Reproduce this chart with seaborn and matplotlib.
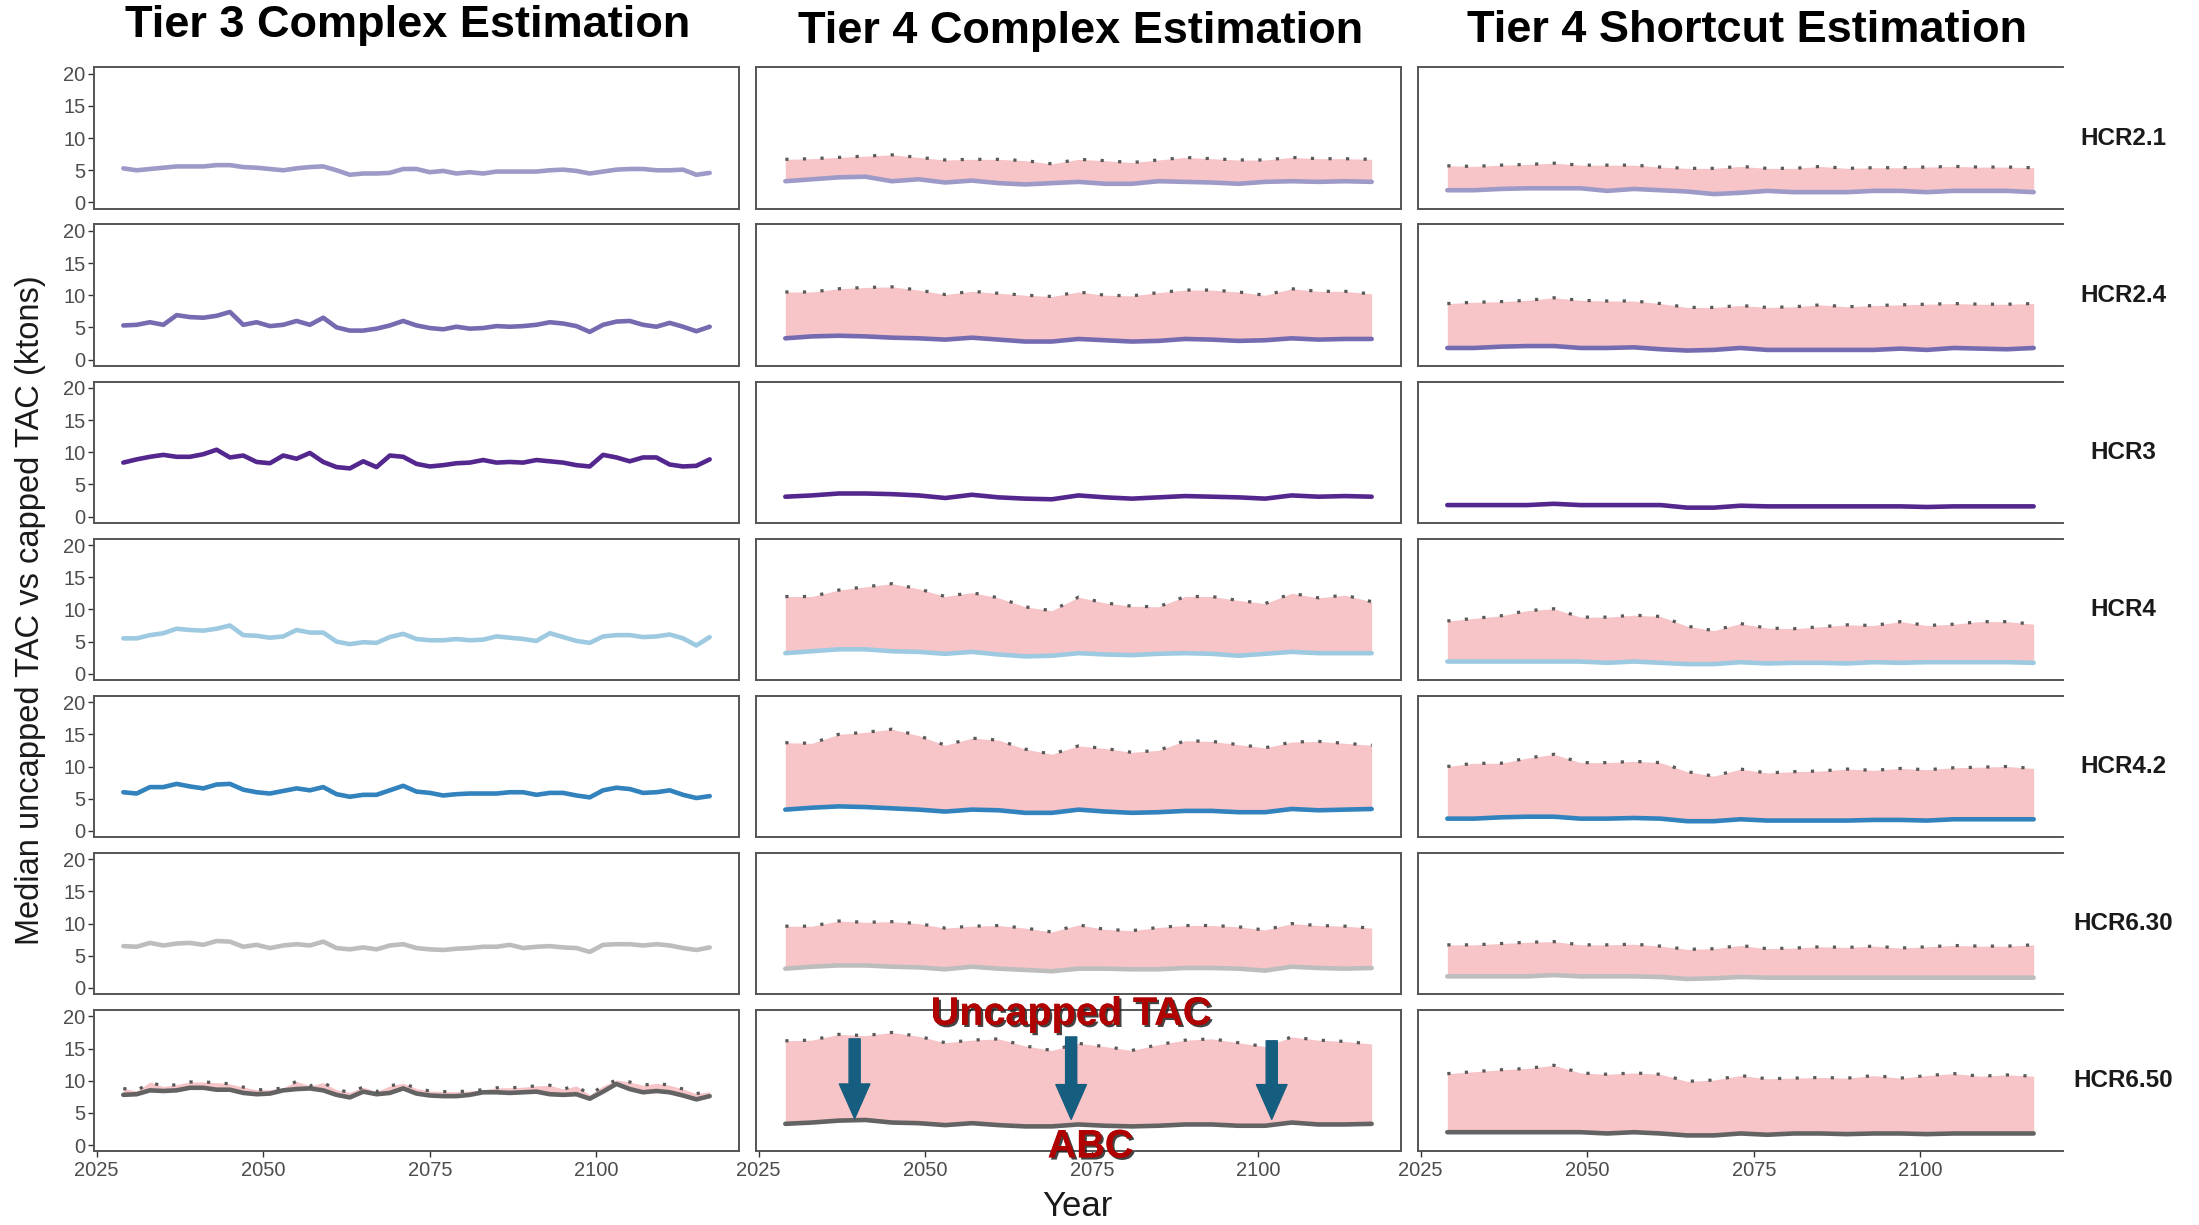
import matplotlib
matplotlib.use("Agg")
import matplotlib.pyplot as plt
import matplotlib.patheffects as pe
from matplotlib import font_manager as fm
import seaborn as sns
import pandas as pd

# ---------------- data ----------------
YEARS_T3 = list(range(2029, 2118, 2))   # Tier 3 complex (45 yrs)
YEARS_T4 = list(range(2029, 2118, 4))   # Tier 4 panels (23 yrs)

HCRS = ["HCR2.1", "HCR2.4", "HCR3", "HCR4", "HCR4.2", "HCR6.30", "HCR6.50"]
HCR_COLORS = ["#9E9AC8", "#756BB1", "#54278F", "#9ECAE1", "#3182BD", "#BDBDBD", "#636363"]
COL_TITLES = ["Tier 3 Complex Estimation", "Tier 4 Complex Estimation", "Tier 4 Shortcut Estimation"]
X_TICKS = [2025, 2050, 2075, 2100]
Y_TICKS = [0, 5, 10, 15, 20]

# Tier 3 complex: capped TAC (ABC)
t3_hcr21 = [5.3,5.0,5.2,5.4,5.6,5.6,5.6,5.8,5.8,5.5,5.4,5.2,5.0,5.3,5.5,5.6,5.0,4.3,4.5,4.5,4.6,5.2,5.2,4.7,4.9,
            4.5,4.7,4.5,4.8,4.8,4.8,4.8,5.0,5.1,4.9,4.5,4.8,5.1,5.2,5.2,5.0,5.0,5.1,4.3,4.6]
t3_hcr24 = [5.3,5.4,5.8,5.4,6.9,6.6,6.5,6.8,7.4,5.4,5.8,5.2,5.4,6.0,5.4,6.5,5.0,4.5,4.5,4.8,5.3,6.0,5.3,4.9,4.7,
            5.1,4.8,4.9,5.2,5.1,5.2,5.4,5.8,5.6,5.2,4.3,5.4,5.9,6.0,5.4,5.1,5.7,5.1,4.4,5.1]
t3_hcr3 = [8.4,8.9,9.3,9.6,9.3,9.3,9.7,10.4,9.2,9.5,8.5,8.3,9.5,9.0,9.9,8.5,7.7,7.5,8.6,7.7,9.5,9.3,8.2,7.8,8.0,
           8.3,8.4,8.8,8.4,8.5,8.4,8.8,8.6,8.4,8.0,7.8,9.6,9.2,8.6,9.2,9.2,8.1,7.8,7.9,8.9]
t3_hcr4 = [5.5,5.5,6.0,6.3,7.0,6.8,6.7,7.0,7.5,6.0,5.9,5.6,5.8,6.8,6.4,6.4,5.0,4.6,4.9,4.8,5.7,6.2,5.4,5.2,5.2,
           5.4,5.2,5.3,5.8,5.6,5.4,5.1,6.3,5.7,5.1,4.8,5.8,6.0,6.0,5.7,5.8,6.1,5.5,4.4,5.7]
t3_hcr42 = [6.0,5.8,6.8,6.8,7.3,6.9,6.6,7.2,7.3,6.4,6.0,5.8,6.2,6.6,6.3,6.8,5.7,5.3,5.6,5.6,6.3,7.0,6.1,5.9,5.5,
            5.7,5.8,5.8,5.8,6.0,6.0,5.6,5.9,5.9,5.5,5.2,6.3,6.7,6.5,5.9,6.0,6.3,5.6,5.1,5.4]
t3_hcr630 = [6.5,6.4,7.0,6.6,6.9,7.0,6.7,7.3,7.2,6.4,6.7,6.2,6.6,6.8,6.6,7.2,6.2,6.0,6.3,6.0,6.6,6.8,6.2,6.0,5.9,
             6.1,6.2,6.4,6.4,6.7,6.2,6.4,6.5,6.3,6.2,5.6,6.7,6.8,6.8,6.6,6.8,6.6,6.2,5.9,6.3]
t3_hcr650 = [7.8,7.9,8.5,8.4,8.5,8.9,8.9,8.6,8.6,8.1,7.9,8.0,8.5,8.7,8.8,8.5,7.8,7.4,8.3,7.9,8.1,8.8,8.0,7.7,7.6,
             7.6,7.8,8.2,8.2,8.1,8.2,8.3,7.9,7.8,7.9,7.2,8.3,9.5,8.7,8.2,8.4,8.2,7.7,7.1,7.6]
# Tier 3 complex: uncapped TAC (only differs for HCR6.50)
t3_unc_hcr650 = [8.8,8.4,9.8,9.1,9.4,9.8,9.8,9.7,9.5,9.0,8.6,8.6,8.9,9.9,9.2,9.7,8.6,8.2,9.0,8.3,9.2,9.6,8.8,8.4,8.3,
                 8.3,8.4,8.6,8.9,8.9,9.0,9.2,9.3,8.7,9.2,7.8,9.2,10.1,9.8,9.3,9.6,9.3,8.7,8.0,8.3]

# Tier 4 complex: capped TAC (ABC)
t4c_hcr21 = [3.3,3.6,3.9,4.0,3.3,3.6,3.1,3.4,3.0,2.8,3.0,3.2,2.9,2.9,3.3,3.2,3.1,2.9,3.2,3.3,3.2,3.3,3.2]
t4c_hcr24 = [3.3,3.6,3.7,3.6,3.4,3.3,3.1,3.4,3.1,2.8,2.8,3.2,3.0,2.8,2.9,3.2,3.1,2.9,3.0,3.3,3.1,3.2,3.2]
t4c_hcr3 = [3.1,3.3,3.6,3.6,3.5,3.3,2.9,3.4,3.0,2.8,2.7,3.3,3.0,2.8,3.0,3.2,3.1,3.0,2.8,3.3,3.1,3.2,3.1]
t4c_hcr4 = [3.2,3.5,3.8,3.8,3.5,3.4,3.1,3.4,3.0,2.7,2.8,3.2,3.0,2.9,3.1,3.2,3.1,2.8,3.1,3.4,3.2,3.2,3.2]
t4c_hcr42 = [3.3,3.6,3.8,3.7,3.5,3.3,3.0,3.3,3.2,2.8,2.8,3.3,3.0,2.8,2.9,3.1,3.1,2.9,2.9,3.4,3.2,3.3,3.4]
t4c_hcr630 = [3.0,3.3,3.5,3.5,3.3,3.2,2.9,3.3,3.0,2.8,2.6,3.0,3.0,2.9,2.9,3.1,3.1,3.0,2.7,3.3,3.1,3.0,3.1]
t4c_hcr650 = [3.3,3.5,3.8,3.9,3.5,3.4,3.1,3.4,3.1,2.9,2.9,3.2,3.0,2.9,3.0,3.2,3.2,3.0,3.0,3.5,3.2,3.2,3.3]
# Tier 4 complex: uncapped TAC
t4c_unc_hcr21 = [6.7,6.8,7.0,7.2,7.4,7.0,6.6,6.7,6.7,6.5,6.0,6.7,6.5,6.2,6.6,7.0,6.8,6.6,6.6,7.0,6.8,6.8,6.7]
t4c_unc_hcr24 = [10.5,10.5,11.0,11.2,11.3,10.8,10.1,10.6,10.3,10.0,9.8,10.5,10.0,9.9,10.4,10.8,10.8,10.5,10.0,11.0,10.6,10.6,10.2]
t4c_unc_hcr4 = [12.0,12.0,13.0,13.5,14.0,13.2,12.0,12.6,11.8,10.4,9.8,11.9,11.0,10.5,10.4,12.0,12.0,11.4,10.9,12.5,11.8,12.2,11.2]
t4c_unc_hcr42 = [13.7,13.6,15.0,15.3,15.8,14.8,13.3,14.4,14.1,12.7,11.9,13.2,12.8,12.2,12.5,14.0,13.9,13.4,12.9,13.8,13.9,13.6,13.3]
t4c_unc_hcr630 = [9.6,9.6,10.4,10.2,10.3,10.0,9.3,9.6,9.7,9.3,8.7,9.8,9.1,8.9,9.4,9.7,9.7,9.5,9.0,10.0,9.7,9.6,9.3]
t4c_unc_hcr650 = [16.2,16.3,17.2,17.0,17.5,16.9,15.9,16.3,16.5,15.4,14.7,15.8,15.3,14.7,15.6,16.3,16.5,15.9,15.3,16.8,16.3,16.1,15.7]

# Tier 4 shortcut: capped TAC (ABC)
t4s_hcr21 = [1.9,1.9,2.1,2.2,2.2,2.2,1.8,2.1,1.9,1.7,1.3,1.5,1.8,1.6,1.6,1.6,1.8,1.8,1.6,1.8,1.8,1.8,1.6]
t4s_hcr24 = [1.8,1.8,2.0,2.1,2.1,1.8,1.8,1.9,1.6,1.4,1.5,1.8,1.5,1.5,1.5,1.5,1.5,1.7,1.5,1.8,1.7,1.6,1.8]
t4s_hcr3 = [1.8,1.8,1.8,1.8,2.0,1.8,1.8,1.8,1.8,1.4,1.4,1.7,1.6,1.6,1.6,1.6,1.6,1.6,1.5,1.6,1.6,1.6,1.6]
t4s_hcr4 = [1.9,1.9,1.9,1.9,1.9,1.9,1.7,1.9,1.7,1.5,1.5,1.8,1.6,1.7,1.7,1.6,1.8,1.7,1.8,1.8,1.8,1.8,1.7]
t4s_hcr42 = [1.9,1.9,2.1,2.2,2.2,1.9,1.9,2.0,1.9,1.5,1.5,1.8,1.6,1.6,1.6,1.6,1.7,1.7,1.6,1.8,1.8,1.8,1.8]
t4s_hcr630 = [1.8,1.8,1.8,1.8,2.0,1.8,1.8,1.8,1.7,1.4,1.5,1.7,1.6,1.6,1.6,1.6,1.6,1.6,1.6,1.6,1.6,1.6,1.6]
t4s_hcr650 = [2.0,2.0,2.0,2.0,2.0,2.0,1.8,2.0,1.8,1.5,1.5,1.8,1.6,1.8,1.8,1.7,1.8,1.8,1.7,1.8,1.8,1.8,1.8]
# Tier 4 shortcut: uncapped TAC
t4s_unc_hcr21 = [5.7,5.6,5.8,5.9,6.1,5.8,5.8,5.8,5.5,5.3,5.3,5.6,5.3,5.3,5.6,5.3,5.4,5.4,5.5,5.6,5.5,5.5,5.4]
t4s_unc_hcr24 = [8.7,8.9,9.0,9.2,9.6,9.2,9.1,9.1,8.7,8.1,8.1,8.4,8.1,8.2,8.5,8.2,8.4,8.5,8.6,8.7,8.6,8.6,8.7]
t4s_unc_hcr4 = [8.2,8.6,9.0,9.8,10.1,8.8,8.8,9.1,8.9,7.4,6.7,7.8,7.1,7.0,7.3,7.6,7.5,8.1,7.5,7.7,8.1,8.1,7.7]
t4s_unc_hcr42 = [10.0,10.5,10.5,11.3,11.9,10.6,10.6,10.8,10.6,9.2,8.5,9.6,9.0,9.2,9.3,9.6,9.4,9.7,9.5,9.8,9.9,10.0,9.7]
t4s_unc_hcr630 = [6.7,6.7,6.9,7.1,7.2,6.7,6.7,6.8,6.5,6.0,6.1,6.6,6.1,6.2,6.4,6.3,6.5,6.2,6.4,6.6,6.5,6.5,6.7]
t4s_unc_hcr650 = [11.1,11.4,11.7,11.9,12.4,11.2,11.0,11.2,11.0,9.9,10.1,10.8,10.3,10.4,10.5,10.4,10.8,10.4,10.8,11.1,10.7,10.9,10.7]

# annotation positions (data coords, Tier 4 complex / HCR6.50 panel)
ARROW_X = [2039.4, 2071.9, 2102.0]
ARROW_TOP = [16.5, 16.8, 16.2]
ARROW_TIP = [4.1, 4.0, 4.0]

# ---------------- assemble ----------------
t3_abc = [t3_hcr21, t3_hcr24, t3_hcr3, t3_hcr4, t3_hcr42, t3_hcr630, t3_hcr650]
t3_unc = [None, None, None, None, None, None, t3_unc_hcr650]
t4c_abc = [t4c_hcr21, t4c_hcr24, t4c_hcr3, t4c_hcr4, t4c_hcr42, t4c_hcr630, t4c_hcr650]
t4c_unc = [t4c_unc_hcr21, t4c_unc_hcr24, None, t4c_unc_hcr4, t4c_unc_hcr42, t4c_unc_hcr630, t4c_unc_hcr650]
t4s_abc = [t4s_hcr21, t4s_hcr24, t4s_hcr3, t4s_hcr4, t4s_hcr42, t4s_hcr630, t4s_hcr650]
t4s_unc = [t4s_unc_hcr21, t4s_unc_hcr24, None, t4s_unc_hcr4, t4s_unc_hcr42, t4s_unc_hcr630, t4s_unc_hcr650]
columns = [(YEARS_T3, t3_abc, t3_unc), (YEARS_T4, t4c_abc, t4c_unc), (YEARS_T4, t4s_abc, t4s_unc)]

# ---------------- style ----------------
sns.set_theme(style="white")
names = {f.name for f in fm.fontManager.ttflist}
NARROW = "Liberation Sans Narrow" if "Liberation Sans Narrow" in names else "Liberation Sans"
plt.rcParams["font.family"] = ["Liberation Sans", "DejaVu Sans"]

W, H = 2199, 1225
fig = plt.figure(figsize=(W / 100, H / 100), dpi=100)
fig.patch.set_facecolor("white")

COL_LEFT = [94, 756, 1418]
COL_W = 645
ROW_TOP0, ROW_STEP, ROW_H = 67.3, 157.1, 141.6
PINK = "#F7C4C7"
SPINE = "#555555"
TICKLAB = "#4D4D4D"

axes = {}
for c, (yrs, abc_list, unc_list) in enumerate(columns):
    for r in range(7):
        y0 = ROW_TOP0 + r * ROW_STEP
        ax = fig.add_axes([COL_LEFT[c] / W, 1 - (y0 + ROW_H) / H, COL_W / W, ROW_H / H])
        axes[(r, c)] = ax
        abc = abc_list[r]
        unc = unc_list[r]
        df = pd.DataFrame({"Year": yrs, "ABC": abc})
        if unc is not None:
            ax.fill_between(yrs, abc, unc, color=PINK, linewidth=0, zorder=1)
        sns.lineplot(data=df, x="Year", y="ABC", ax=ax, color=HCR_COLORS[r],
                     linewidth=3.3, zorder=3, legend=False)
        if unc is not None:
            du = pd.DataFrame({"Year": yrs, "Unc": unc})
            sns.lineplot(data=du, x="Year", y="Unc", ax=ax, color="#595959",
                         linewidth=2.3, linestyle=(0, (1, 4.5)), zorder=4, legend=False)
        ax.set_xlim(2024.6, 2121.4)
        ax.set_ylim(-1, 21)
        ax.set_xlabel("")
        ax.set_ylabel("")
        for s in ax.spines.values():
            s.set_color(SPINE)
            s.set_linewidth(1.4)
        if c == 2:
            ax.spines["right"].set_visible(False)
        if c == 0:
            ax.set_yticks(Y_TICKS)
            ax.tick_params(axis="y", length=4, width=1.0, color="#333333", pad=2,
                           labelsize=14.5, labelcolor=TICKLAB, left=True)
            for lab in ax.get_yticklabels():
                lab.set_family(NARROW)
        else:
            ax.set_yticks([])
        if r == 6:
            ax.set_xticks(X_TICKS)
            ax.tick_params(axis="x", length=4, width=1.0, color="#333333", pad=3,
                           labelsize=14.5, labelcolor=TICKLAB, bottom=True)
            for lab in ax.get_xticklabels():
                lab.set_family(NARROW)
        else:
            ax.set_xticks([])

# column titles
TITLE_POS = [(408, 26), (1081, 31), (1747, 31)]
for (tx, ty), t in zip(TITLE_POS, COL_TITLES):
    fig.text(tx / W, 1 - ty / H, t, ha="center", va="center", fontsize=32.5,
             fontweight="bold", family=NARROW, color="black")

# row strip labels
for r, h in enumerate(HCRS):
    yc = ROW_TOP0 + r * ROW_STEP + ROW_H / 2
    fig.text(2123 / W, 1 - yc / H, h, ha="center", va="center", fontsize=17.5,
             fontweight="bold", family=NARROW, color="#1A1A1A")

# axis titles
fig.text(31 / W, 1 - 610 / H, "Median uncapped TAC vs capped TAC (ktons)", rotation=90,
         ha="center", va="center", fontsize=23.5, color="#1A1A1A")
fig.text(1077 / W, 1 - 1207 / H, "Year", ha="center", va="center", fontsize=25, color="#1A1A1A")

# annotations on Tier 4 complex / HCR6.50
ax = axes[(6, 1)]
for x, yt, yb in zip(ARROW_X, ARROW_TOP, ARROW_TIP):
    ax.annotate("", xy=(x, yb), xytext=(x, yt),
                arrowprops=dict(arrowstyle="simple,head_length=1.25,head_width=1.1,tail_width=0.4",
                                mutation_scale=20, color="#165E80", shrinkA=0, shrinkB=0),
                zorder=6)
shadow = [pe.withSimplePatchShadow(offset=(1.6, -1.6), shadow_rgbFace="#222222", alpha=0.85), pe.Normal()]
ax.text(2071.9, 20.4, "Uncapped TAC", ha="center", va="center", fontsize=28.5, fontweight="bold",
        color="#B00000", clip_on=False, zorder=8, path_effects=shadow)
ax.text(2074.8, -0.2, "ABC", ha="center", va="center", fontsize=28.5, fontweight="bold",
        color="#B00000", clip_on=False, zorder=8, path_effects=shadow)

fig.savefig("out.png", dpi=100, facecolor="white")
